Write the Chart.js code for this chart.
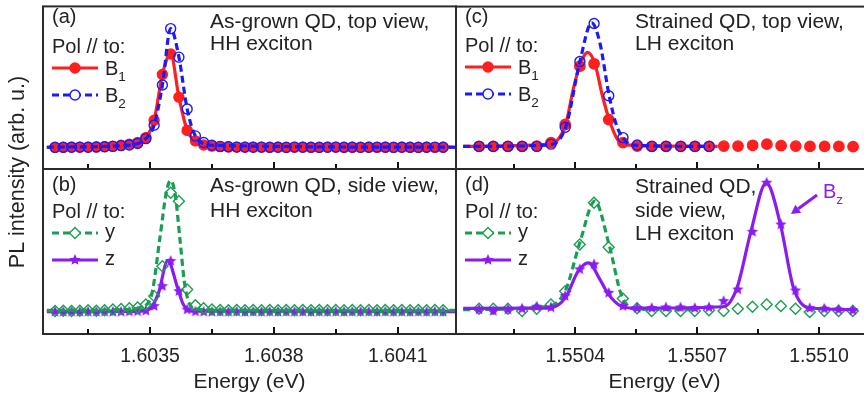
<!DOCTYPE html>
<html>
<head>
<meta charset="utf-8">
<script src="https://cdn.jsdelivr.net/npm/chart.js@4/dist/chart.umd.min.js"></script>
<style>
  html, body { margin: 0; padding: 0; background: #fff; overflow: hidden; }
  #wrap { position: relative; width: 880px; height: 399px; }
  #wrap canvas { position: absolute; left: 0; top: 0; }
</style>
</head>
<body>
<div id="wrap">
  <canvas id="pa" width="880" height="399"></canvas>
  <canvas id="pb" width="880" height="399"></canvas>
  <canvas id="pc" width="880" height="399"></canvas>
  <canvas id="pd" width="880" height="399"></canvas>
</div>
<script>
// ---------- energies of the measured points (eV) ----------
const energyL = [
  1.60327, 1.60329, 1.60331, 1.60333, 1.60335, 1.60337, 1.60339, 1.60341, 1.60343, 1.60345,
  1.60347, 1.60349, 1.60351, 1.60353, 1.60355, 1.60357, 1.60359, 1.60361, 1.60363, 1.60365,
  1.60367, 1.60369, 1.60371, 1.60373, 1.60375, 1.60377, 1.60379, 1.60381, 1.60383, 1.60385,
  1.60387, 1.60389, 1.60391, 1.60393, 1.60395, 1.60397, 1.60399, 1.60401, 1.60403, 1.60405,
  1.60407, 1.60409, 1.60411, 1.60413, 1.60415, 1.60417, 1.60419, 1.60421
];
const energyR = [
  1.550163, 1.550198, 1.550234, 1.550269, 1.550305, 1.550340, 1.550375, 1.550411, 1.550446,
  1.550482, 1.550517, 1.550552, 1.550588, 1.550623, 1.550659, 1.550694, 1.550729, 1.550765,
  1.550800, 1.550836, 1.550871, 1.550906, 1.550942, 1.550977, 1.551013, 1.551048, 1.551083
];

// ---------- (a) as-grown QD, top view ----------
const a_B1 = [
  0.004, 0.003, 0.005, 0.004, 0.005, 0.006, 0.008, 0.012, 0.018,
  0.026, 0.037, 0.072, 0.195, 0.518, 0.664, 0.358, 0.123, 0.049, 0.020, 0.012,
  0.008, 0.006, 0.005, 0.004, 0.005, 0.004, 0.003, 0.005, 0.004, 0.004,
  0.005, 0.003, 0.004, 0.005, 0.004, 0.003, 0.004, 0.005, 0.004, 0.003,
  0.004, 0.004, 0.005, 0.003, 0.004, 0.004, 0.003, 0.004
];
const a_B2 = [
  0.003, 0.004, 0.004, 0.005, 0.004, 0.006, 0.007, 0.010, 0.015,
  0.020, 0.030, 0.065, 0.160, 0.444, 0.843, 0.641, 0.274, 0.084, 0.037, 0.018,
  0.010, 0.007, 0.005, 0.005, 0.004, 0.005, 0.004, 0.004, 0.003, 0.005,
  0.004, 0.004, 0.003, 0.004, 0.005, 0.004, 0.004, 0.003, 0.004, 0.005,
  0.004, 0.003, 0.004, 0.004, 0.003, 0.004, 0.005, 0.004
];
const fitA_E  = [1.60325, 1.60343, 1.60347, 1.60349, 1.60351, 1.60353, 1.60355, 1.60357, 1.60359, 1.60361, 1.60365, 1.60424];
const fitA_B1 = [0.004, 0.018, 0.037, 0.072, 0.195, 0.518, 0.664, 0.358, 0.123, 0.049, 0.012, 0.004];
const fitA_B2 = [0.004, 0.015, 0.030, 0.065, 0.160, 0.444, 0.843, 0.641, 0.274, 0.084, 0.018, 0.004];

// ---------- (b) as-grown QD, side view ----------
const b_y = [
  0.010, 0.012, 0.010, 0.012, 0.015, 0.012, 0.015, 0.020,
  0.025, 0.030, 0.035, 0.056, 0.114, 0.323, 0.834, 0.776, 0.160, 0.050, 0.030, 0.020,
  0.018, 0.016, 0.018, 0.016, 0.018, 0.016, 0.018, 0.016, 0.018, 0.016,
  0.018, 0.016, 0.018, 0.016, 0.018, 0.016, 0.018, 0.016, 0.018, 0.016,
  0.018, 0.016, 0.018, 0.016, 0.018, 0.016, 0.018, 0.016
];
const b_z = [
  0.005, 0.004, 0.005, 0.004, 0.005, 0.004, 0.005, 0.004, 0.005, 0.006, 0.008, 0.012,
  0.044, 0.183, 0.358, 0.148, 0.020, 0.006,
  0.005, 0.004, 0.005, 0.004, 0.005, 0.004, 0.005, 0.004, 0.005, 0.004, 0.005, 0.004,
  0.005, 0.004, 0.005, 0.004, 0.005, 0.004, 0.005, 0.004, 0.005, 0.004, 0.005, 0.004,
  0.005, 0.004, 0.005, 0.004, 0.005, 0.004
];
const fitB_yE = [1.60325, 1.60344, 1.60348, 1.603504, 1.603524, 1.60354, 1.60355, 1.603561, 1.603573, 1.603583, 1.603593, 1.603609, 1.60365, 1.60424];
const fitB_y  = [0.015, 0.020, 0.040, 0.125, 0.520, 0.845, 0.920, 0.822, 0.497, 0.218, 0.079, 0.025, 0.018, 0.015];
const fitB_zE = [1.60325, 1.60347, 1.6035, 1.60352, 1.603543, 1.603567, 1.60358, 1.6036, 1.60424];
const fitB_z  = [0.005, 0.008, 0.030, 0.130, 0.362, 0.170, 0.060, 0.010, 0.005];

// ---------- (c) strained QD, top view ----------
const c_B1 = [0.010, 0.010, 0.010, 0.010, 0.012, 0.037, 0.165, 0.578, 0.595, 0.200, 0.037, 0.012, 0.010,
              0.010, 0.010, 0.010, 0.010, 0.012, 0.012, 0.018, 0.026, 0.015, 0.012, 0.010, 0.010, 0.010, 0.008];
const c_B2 = [0.010, 0.010, 0.010, 0.010, 0.010, 0.026, 0.146, 0.611, 0.880, 0.369, 0.072, 0.020, 0.010,
              0.010, 0.010, 0.010, 0.010];
const fitC_B1E = [1.550124, 1.550334, 1.550376, 1.550395, 1.550411, 1.55043, 1.550448, 1.550466, 1.550483, 1.550501, 1.550517, 1.55075];
const fitC_B1  = [0.010, 0.026, 0.165, 0.420, 0.583, 0.676, 0.595, 0.374, 0.200, 0.072, 0.021, 0.010];
const fitC_B2E = [1.550124, 1.550334, 1.550376, 1.550411, 1.55044, 1.55046, 1.550483, 1.550501, 1.550517, 1.550535, 1.550732];
const fitC_B2  = [0.010, 0.020, 0.146, 0.611, 0.885, 0.746, 0.369, 0.160, 0.072, 0.020, 0.010];

// ---------- (d) strained QD, side view ----------
const d_y = [0.026, 0.026, 0.026, 0.010, 0.026, 0.056, 0.148, 0.474, 0.765, 0.455, 0.098, 0.030, 0.010,
             0.010, 0.010, 0.010, 0.015, 0.010, 0.026, 0.040, 0.056, 0.045, 0.026, 0.003, 0.010, 0.010, 0.010];
const d_z = [0.020, 0.010, 0.020, 0.026, 0.040, 0.035, 0.114, 0.300, 0.335, 0.137, 0.044, 0.030, 0.030,
             0.035, 0.035, 0.030, 0.035, 0.079, 0.160, 0.562, 0.904, 0.613, 0.153, 0.030, 0.026, 0.020, 0.015];
const fitD_yE = [1.550124, 1.550334, 1.550375, 1.550411, 1.550448, 1.550483, 1.550513, 1.550545, 1.550694];
const fitD_y  = [0.020, 0.044, 0.148, 0.486, 0.776, 0.474, 0.125, 0.025, 0.020];
const fitD_zE = [1.550124, 1.550334, 1.550375, 1.550407, 1.550432, 1.550463, 1.550479, 1.550513, 1.550545,
                 1.550765, 1.550798, 1.550832, 1.55087, 1.550905, 1.550937, 1.550974, 1.551093];
const fitD_z  = [0.028, 0.030, 0.100, 0.288, 0.346, 0.218, 0.137, 0.044, 0.030,
                 0.040, 0.172, 0.562, 0.904, 0.613, 0.172, 0.033, 0.020];

// ---------- axis ticks ----------
const majorL = [1.6035, 1.6038, 1.6041];
const minorL = [1.60335, 1.60365, 1.60395];
const tickLabelsL = ['1.6035', '1.6038', '1.6041'];
const majorR = [1.5504, 1.5507, 1.5510];
const minorR = [1.55025, 1.55055, 1.55085];
const tickLabelsR = ['1.5504', '1.5507', '1.5510'];
const xRangeL = [1.6032408, 1.6042412];
const xRangeR = [1.5501063, 1.551133];
const yRange = [-0.15, 1.0];

// ---------- styling ----------
const W = 880, H = 399;
const RED = '#ff1f1f', BLUE = '#1a1aff', GREEN = '#1a9e52', PURPLE = '#8a1cf2';
const INK = '#222222', FRAME = '#2b2b2b';
const FONT = "'Liberation Sans', Arial, sans-serif";
const DASH = [7, 4];
const TXT = 20;

// filled five-pointed star used as a marker
function makeStar(color, R) {
  const c = document.createElement('canvas');
  const s = Math.ceil(R * 2 + 2);
  c.width = s; c.height = s;
  const g = c.getContext('2d');
  g.fillStyle = color;
  g.beginPath();
  for (let k = 0; k < 10; k++) {
    const r = k % 2 === 0 ? R : R * 0.45;
    const ang = -Math.PI / 2 + k * Math.PI / 5;
    const px = s / 2 + r * Math.cos(ang), py = s / 2 + r * Math.sin(ang);
    k === 0 ? g.moveTo(px, py) : g.lineTo(px, py);
  }
  g.closePath();
  g.fill();
  return c;
}
const STAR = makeStar(PURPLE, 6);

const pts = (xs, ys) => ys.map((y, k) => ({ x: xs[k], y }));

function fitLine(xs, ys, color, dash, order) {
  return {
    data: pts(xs, ys), borderColor: color, borderWidth: 3.2, borderDash: dash,
    pointRadius: 0, fill: false, cubicInterpolationMode: 'monotone', order
  };
}
function markers(xs, ys, color, style, fillColor, radius, order) {
  return {
    data: pts(xs, ys), showLine: false, pointStyle: style, pointRadius: radius,
    pointBorderWidth: 1.4, pointBorderColor: color, pointBackgroundColor: fillColor,
    borderColor: color, order
  };
}

// legend entries (sample line + marker + label)
const LEG_B1 = { main: 'B', sub: '1', color: RED, dash: [], style: 'circle', fill: RED, r: 5 };
const LEG_B2 = { main: 'B', sub: '2', color: BLUE, dash: DASH, style: 'circle', fill: '#ffffff', r: 5 };
const LEG_Y  = { main: 'y', sub: '', color: GREEN, dash: DASH, style: 'rectRot', fill: '#ffffff', r: 5.5 };
const LEG_Z  = { main: 'z', sub: '', color: PURPLE, dash: [], style: STAR, fill: PURPLE, r: 5 };

function text(ctx, s, x, y, size, color, align) {
  ctx.font = size + 'px ' + FONT;
  ctx.fillStyle = color || INK;
  ctx.textAlign = align || 'left';
  ctx.textBaseline = 'alphabetic';
  ctx.fillText(s, x, y);
}
function textSub(ctx, main, sub, x, y, size, color) {
  text(ctx, main, x, y, size, color);
  if (sub) {
    const w = ctx.measureText(main).width;
    text(ctx, sub, x + w, y + size * 0.3, size * 0.68, color);
  }
}

function drawDeco(chart, sp) {
  const ctx = chart.ctx, a = chart.chartArea, xs = chart.scales.x;
  ctx.save();
  // panel frame
  ctx.strokeStyle = FRAME; ctx.lineWidth = 2; ctx.setLineDash([]);
  ctx.strokeRect(a.left, a.top, a.right - a.left, a.bottom - a.top);
  // inward ticks on the lower edge
  ctx.strokeStyle = '#111'; ctx.lineWidth = 2;
  const tick = (v, len) => {
    const x = Math.round(xs.getPixelForValue(v));
    ctx.beginPath(); ctx.moveTo(x, a.bottom); ctx.lineTo(x, a.bottom - len); ctx.stroke();
  };
  sp.major.forEach(v => tick(v, 7));
  sp.minor.forEach(v => tick(v, 5));
  // tick labels and axis title under the lower panels
  if (sp.tickLabels) {
    sp.major.forEach((v, k) => text(ctx, sp.tickLabels[k], xs.getPixelForValue(v), 362, 19.5, INK, 'center'));
    text(ctx, 'Energy (eV)', (a.left + a.right) / 2, 388, 21, INK, 'center');
  }
  // panel tag, description, legend
  const L = a.left + 9;
  text(ctx, sp.tag, L, sp.tagY, TXT);
  sp.title.forEach((s, k) => {
    ctx.save();
    ctx.translate(sp.titleX, sp.titleY + k * sp.titleGap);
    ctx.scale(1.05, 1);
    text(ctx, s, 0, 0, TXT);
    ctx.restore();
  });
  text(ctx, 'Pol // to:', L, sp.polY, TXT);
  sp.legend.forEach((it, k) => {
    const ly = sp.polY + (k === 0 ? 15 : 42);
    ctx.save();
    ctx.strokeStyle = it.color; ctx.lineWidth = 3.2; ctx.setLineDash(it.dash);
    ctx.beginPath(); ctx.moveTo(L, ly); ctx.lineTo(L + 46, ly); ctx.stroke();
    ctx.setLineDash([]);
    ctx.fillStyle = it.fill; ctx.strokeStyle = it.color; ctx.lineWidth = 1.4;
    Chart.helpers.drawPoint(ctx, { pointStyle: it.style, radius: it.r, borderWidth: 1.4, rotation: 0 }, L + 23, ly);
    ctx.restore();
    const base = it.sub ? ly + 7 : ly + 5;
    textSub(ctx, it.main, it.sub, L + 53, base, TXT, INK);
  });
  if (sp.extra) sp.extra(ctx, a);
  ctx.restore();
}

const PANELS = [
  {
    id: 'pa', box: [43, 4, 456, 169], xr: xRangeL, major: majorL, minor: minorL, tickLabels: null,
    tag: '(a)', tagY: 23, title: ['As-grown QD, top view,', 'HH exciton'], titleX: 210, titleY: 28, titleGap: 22,
    polY: 53, legend: [LEG_B1, LEG_B2],
    datasets: [
      markers(energyL, a_B2, BLUE, 'circle', 'rgba(0,0,0,0)', 5, 0),
      fitLine(fitA_E, fitA_B2, BLUE, DASH, 1),
      markers(energyL, a_B1, RED, 'circle', RED, 5, 2),
      fitLine(fitA_E, fitA_B1, RED, [], 3)
    ],
    extra: (ctx) => {
      ctx.save();
      ctx.translate(24, 172);
      ctx.rotate(-Math.PI / 2);
      text(ctx, 'PL intensity (arb. u.)', 0, 0, 21.5, INK, 'center');
      ctx.restore();
    }
  },
  {
    id: 'pb', box: [43, 169, 456, 334], xr: xRangeL, major: majorL, minor: minorL, tickLabels: tickLabelsL,
    tag: '(b)', tagY: 191, title: ['As-grown QD, side view,', 'HH exciton'], titleX: 210, titleY: 192, titleGap: 25,
    polY: 218, legend: [LEG_Y, LEG_Z],
    datasets: [
      markers(energyL, b_y, GREEN, 'rectRot', 'rgba(0,0,0,0)', 5.5, 0),
      fitLine(fitB_yE, fitB_y, GREEN, DASH, 1),
      markers(energyL, b_z, PURPLE, STAR, PURPLE, 5, 2),
      fitLine(fitB_zE, fitB_z, PURPLE, [], 3)
    ]
  },
  {
    id: 'pc', box: [456, 4, 878, 169], xr: xRangeR, major: majorR, minor: minorR, tickLabels: null,
    tag: '(c)', tagY: 23, title: ['Strained QD, top view,', 'LH exciton'], titleX: 635, titleY: 28, titleGap: 22,
    polY: 52, legend: [LEG_B1, LEG_B2],
    datasets: [
      markers(energyR, c_B2, BLUE, 'circle', 'rgba(0,0,0,0)', 5, 0),
      fitLine(fitC_B2E, fitC_B2, BLUE, DASH, 1),
      markers(energyR, c_B1, RED, 'circle', RED, 5.2, 2),
      fitLine(fitC_B1E, fitC_B1, RED, [], 3)
    ]
  },
  {
    id: 'pd', box: [456, 169, 878, 334], xr: xRangeR, major: majorR, minor: minorR, tickLabels: tickLabelsR,
    tag: '(d)', tagY: 191, title: ['Strained QD,', 'side view,', 'LH exciton'], titleX: 635, titleY: 193, titleGap: 23.5,
    polY: 218, legend: [LEG_Y, LEG_Z],
    datasets: [
      markers(energyR, d_z, PURPLE, STAR, PURPLE, 5, 0),
      fitLine(fitD_zE, fitD_z, PURPLE, [], 1),
      markers(energyR, d_y, GREEN, 'rectRot', 'rgba(0,0,0,0)', 5.5, 2),
      fitLine(fitD_yE, fitD_y, GREEN, DASH, 3)
    ],
    extra: (ctx) => {
      // label and arrow pointing at the B_z line
      textSub(ctx, 'B', 'z', 823, 198, TXT, PURPLE);
      ctx.strokeStyle = PURPLE; ctx.fillStyle = PURPLE; ctx.lineWidth = 3;
      const x1 = 817, y1 = 195, x2 = 791, y2 = 214;
      const ang = Math.atan2(y2 - y1, x2 - x1);
      const hx = x2 - 9 * Math.cos(ang), hy = y2 - 9 * Math.sin(ang);
      ctx.beginPath(); ctx.moveTo(x1, y1); ctx.lineTo(hx, hy); ctx.stroke();
      ctx.beginPath();
      ctx.moveTo(x2, y2);
      ctx.lineTo(hx + 5 * Math.sin(ang), hy - 5 * Math.cos(ang));
      ctx.lineTo(hx - 5 * Math.sin(ang), hy + 5 * Math.cos(ang));
      ctx.closePath(); ctx.fill();
    }
  }
];

PANELS.forEach(sp => {
  new Chart(document.getElementById(sp.id), {
    type: 'line',
    data: { datasets: sp.datasets },
    options: {
      responsive: false, animation: false, events: [],
      devicePixelRatio: 1,
      layout: { padding: { left: sp.box[0], top: sp.box[1], right: W - sp.box[2], bottom: H - sp.box[3] } },
      scales: {
        x: { type: 'linear', min: sp.xr[0], max: sp.xr[1], display: false },
        y: { type: 'linear', min: yRange[0], max: yRange[1], display: false }
      },
      plugins: { legend: { display: false }, tooltip: { enabled: false } }
    },
    plugins: [{ id: 'deco_' + sp.id, afterDraw: c => drawDeco(c, sp) }]
  });
});
</script>
</body>
</html>
